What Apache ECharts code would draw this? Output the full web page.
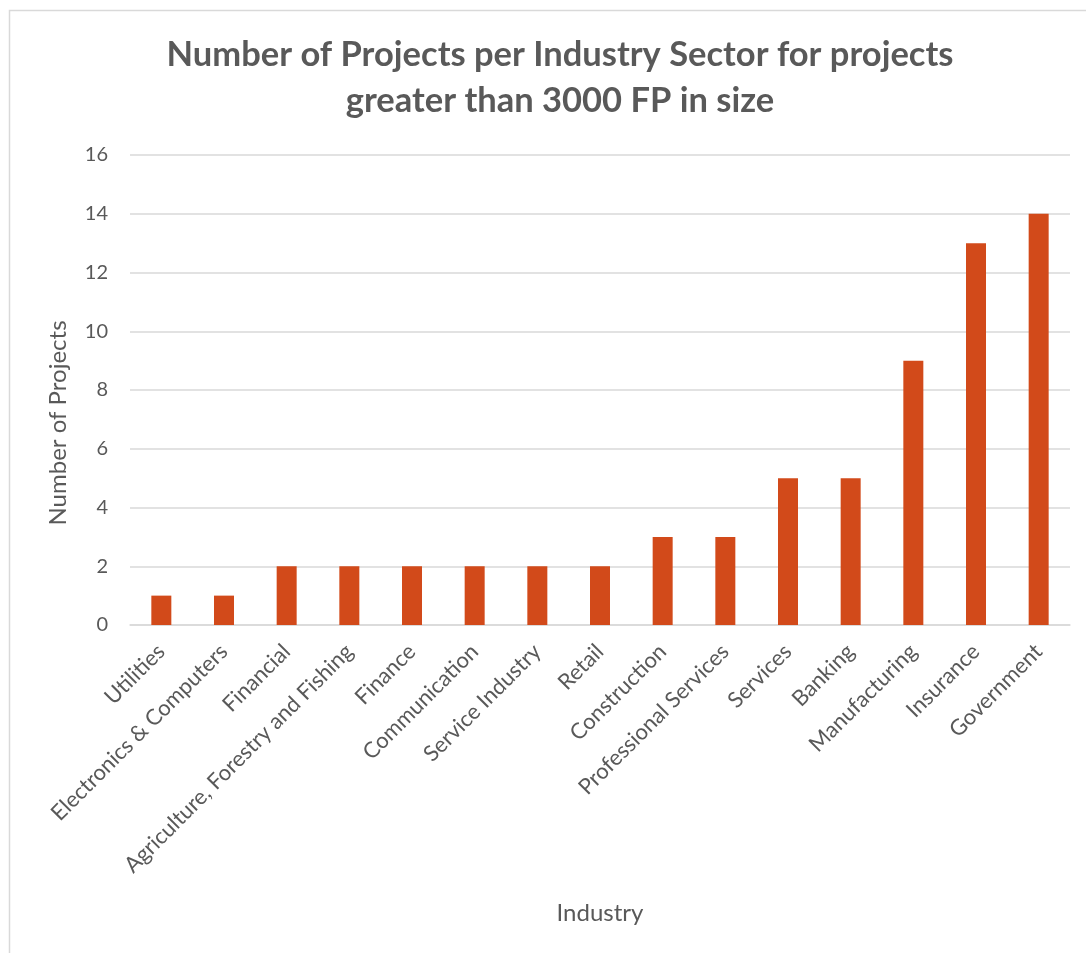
<!DOCTYPE html>
<html>
<head>
<meta charset="utf-8">
<script src="https://cdn.jsdelivr.net/npm/echarts@6/dist/echarts.min.js"></script>
<style>
  html, body { margin: 0; padding: 0; background: #fff; }
  #chart { width: 1086px; height: 953px; }
</style>
</head>
<body>
<div id="chart"></div>
<script>
const categories = ["Utilities", "Electronics & Computers", "Financial", "Agriculture, Forestry and Fishing", "Finance", "Communication", "Service Industry", "Retail", "Construction", "Professional Services", "Services", "Banking", "Manufacturing", "Insurance", "Government"];
const projectCounts = [1, 1, 2, 2, 2, 2, 2, 2, 3, 3, 5, 5, 9, 13, 14];
const titleText = "Number of Projects per Industry Sector for projects\ngreater than 3000 FP in size";
const yAxisName = "Number of Projects";
const xAxisName = "Industry";

const textColor = "#595959";
const fontFam = "Lato, 'Open Sans', sans-serif";
const chart = echarts.init(document.getElementById('chart'), null, { renderer: 'canvas' });
chart.setOption({
  backgroundColor: '#ffffff',
  animation: false,
  graphic: [{
    type: 'rect', silent: true, z: -1,
    shape: { x: 9.5, y: 10.5, width: 1100, height: 1000 },
    style: { fill: 'none', stroke: '#D9D9D9', lineWidth: 1.5 }
  }],
  title: {
    text: titleText,
    left: 555, textAlign: 'center', top: 27,
    textStyle: { color: textColor, fontFamily: fontFam, fontWeight: 'bold', fontSize: 34.5, lineHeight: 46 }
  },
  grid: { left: 130, right: 16, top: 155, bottom: 328, containLabel: false },
  xAxis: {
    type: 'category', data: categories,
    name: xAxisName, nameLocation: 'middle', nameGap: 276,
    nameTextStyle: { color: textColor, fontFamily: fontFam, fontSize: 24 },
    axisLine: { lineStyle: { color: '#D9D9D9', width: 1.5 } },
    axisTick: { show: false },
    axisLabel: { rotate: 45, interval: 0, color: textColor, fontFamily: fontFam, fontSize: 22, margin: 23 }
  },
  yAxis: {
    type: 'value', min: 0, max: 16, interval: 2,
    name: yAxisName, nameLocation: 'middle', nameGap: 60, nameRotate: 90,
    nameTextStyle: { color: textColor, fontFamily: fontFam, fontSize: 24, padding: [0, 66, 0, 0] },
    axisLine: { show: false }, axisTick: { show: false },
    axisLabel: { color: textColor, fontFamily: fontFam, fontSize: 20, margin: 22 },
    splitLine: { lineStyle: { color: '#D9D9D9', width: 1.5 } }
  },
  series: [{
    type: 'bar', data: projectCounts, barWidth: 20,
    itemStyle: { color: '#D24A1A' }
  }]
});
</script>
</body>
</html>
